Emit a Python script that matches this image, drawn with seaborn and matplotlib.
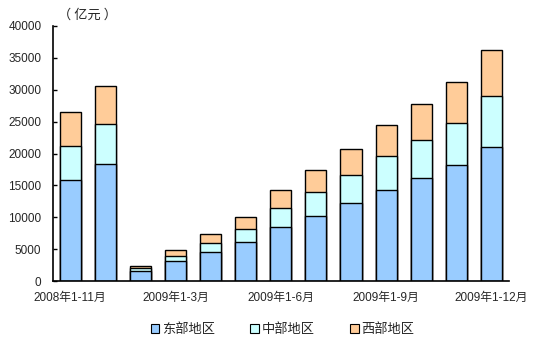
import matplotlib
matplotlib.use("Agg")
import matplotlib.pyplot as plt
from matplotlib.patches import Patch
import seaborn as sns
import numpy as np
import pandas as pd

categories = ["2008年1-11月", "2008年1-12月", "2009年1-2月", "2009年1-3月", "2009年1-4月",
              "2009年1-5月", "2009年1-6月", "2009年1-7月", "2009年1-8月", "2009年1-9月",
              "2009年1-10月", "2009年1-11月", "2009年1-12月"]
east = [15800, 18300, 1520, 3080, 4500, 6070, 8420, 10140, 12180, 14220, 16100, 18140, 21020]
central = [5320, 6280, 470, 890, 1410, 2030, 2980, 3770, 4400, 5340, 5970, 6590, 7950]
west = [5340, 5960, 310, 840, 1410, 1890, 2820, 3450, 4070, 4860, 5640, 6430, 7210]
series_names = ["东部地区", "中部地区", "西部地区"]
colors = ["#99CCFF", "#CCFFFF", "#FFCC99"]
shown_labels = {0: "2008年1-11月", 3: "2009年1-3月", 6: "2009年1-6月", 9: "2009年1-9月", 12: "2009年1-12月"}

sns.set_style("white")
fam = ["Liberation Sans", "Noto Sans CJK SC", "DejaVu Sans"]
plt.rcParams["font.family"] = fam

df = pd.DataFrame({"cat": categories, "east": east, "central": central, "west": west})
df["c1"] = df["east"]
df["c2"] = df["east"] + df["central"]
df["c3"] = df["c2"] + df["west"]

fig = plt.figure(figsize=(5.35, 3.47), dpi=100)
ax = fig.add_axes([52.5 / 535, 66 / 347, 456.5 / 535, 255 / 347])

for col, color in zip(["c3", "c2", "c1"], [colors[2], colors[1], colors[0]]):
    sns.barplot(data=df, x="cat", y=col, order=categories, color=color, saturation=1,
                width=0.6, edgecolor="black", linewidth=1.0, ax=ax)

ax.set_xlim(-0.5, len(categories) - 0.5)
ax.set_ylim(0, 40000)
ax.set_yticks(np.arange(0, 40001, 5000))
ax.set_yticklabels([str(v) for v in range(0, 40001, 5000)], fontsize=8.5)
ax.set_xticks(list(shown_labels.keys()))
ax.set_xticklabels(list(shown_labels.values()), fontsize=8.5, family=fam)
ax.set_xticks(np.arange(-0.5, len(categories), 1.0), minor=True)
ax.tick_params(axis="x", which="major", length=0, pad=8)
ax.tick_params(axis="x", which="minor", direction="in", length=3, width=1, color="black")
ax.tick_params(axis="y", direction="in", length=3, width=1, color="black", pad=8, left=True)
ax.set_xlabel("")
ax.set_ylabel("")
for s in ["top", "right"]:
    ax.spines[s].set_visible(False)
for s in ["left", "bottom"]:
    ax.spines[s].set_color("black")
    ax.spines[s].set_linewidth(1.2)

fig.text(58 / 535, 1 - 15 / 347, "（ 亿元 ）", fontsize=9.5, family=["Noto Sans CJK SC"],
         ha="left", va="center")

handles = [Patch(facecolor=c, edgecolor="black", linewidth=0.8) for c in colors]
fig.legend(handles, series_names, loc="center", bbox_to_anchor=(0.528, 1 - 330 / 347),
           ncol=3, frameon=False, handlelength=0.65, handleheight=0.65,
           handletextpad=0.2, columnspacing=2.7, prop={"family": fam, "size": 9.5})

fig.savefig("out.png", dpi=100)
